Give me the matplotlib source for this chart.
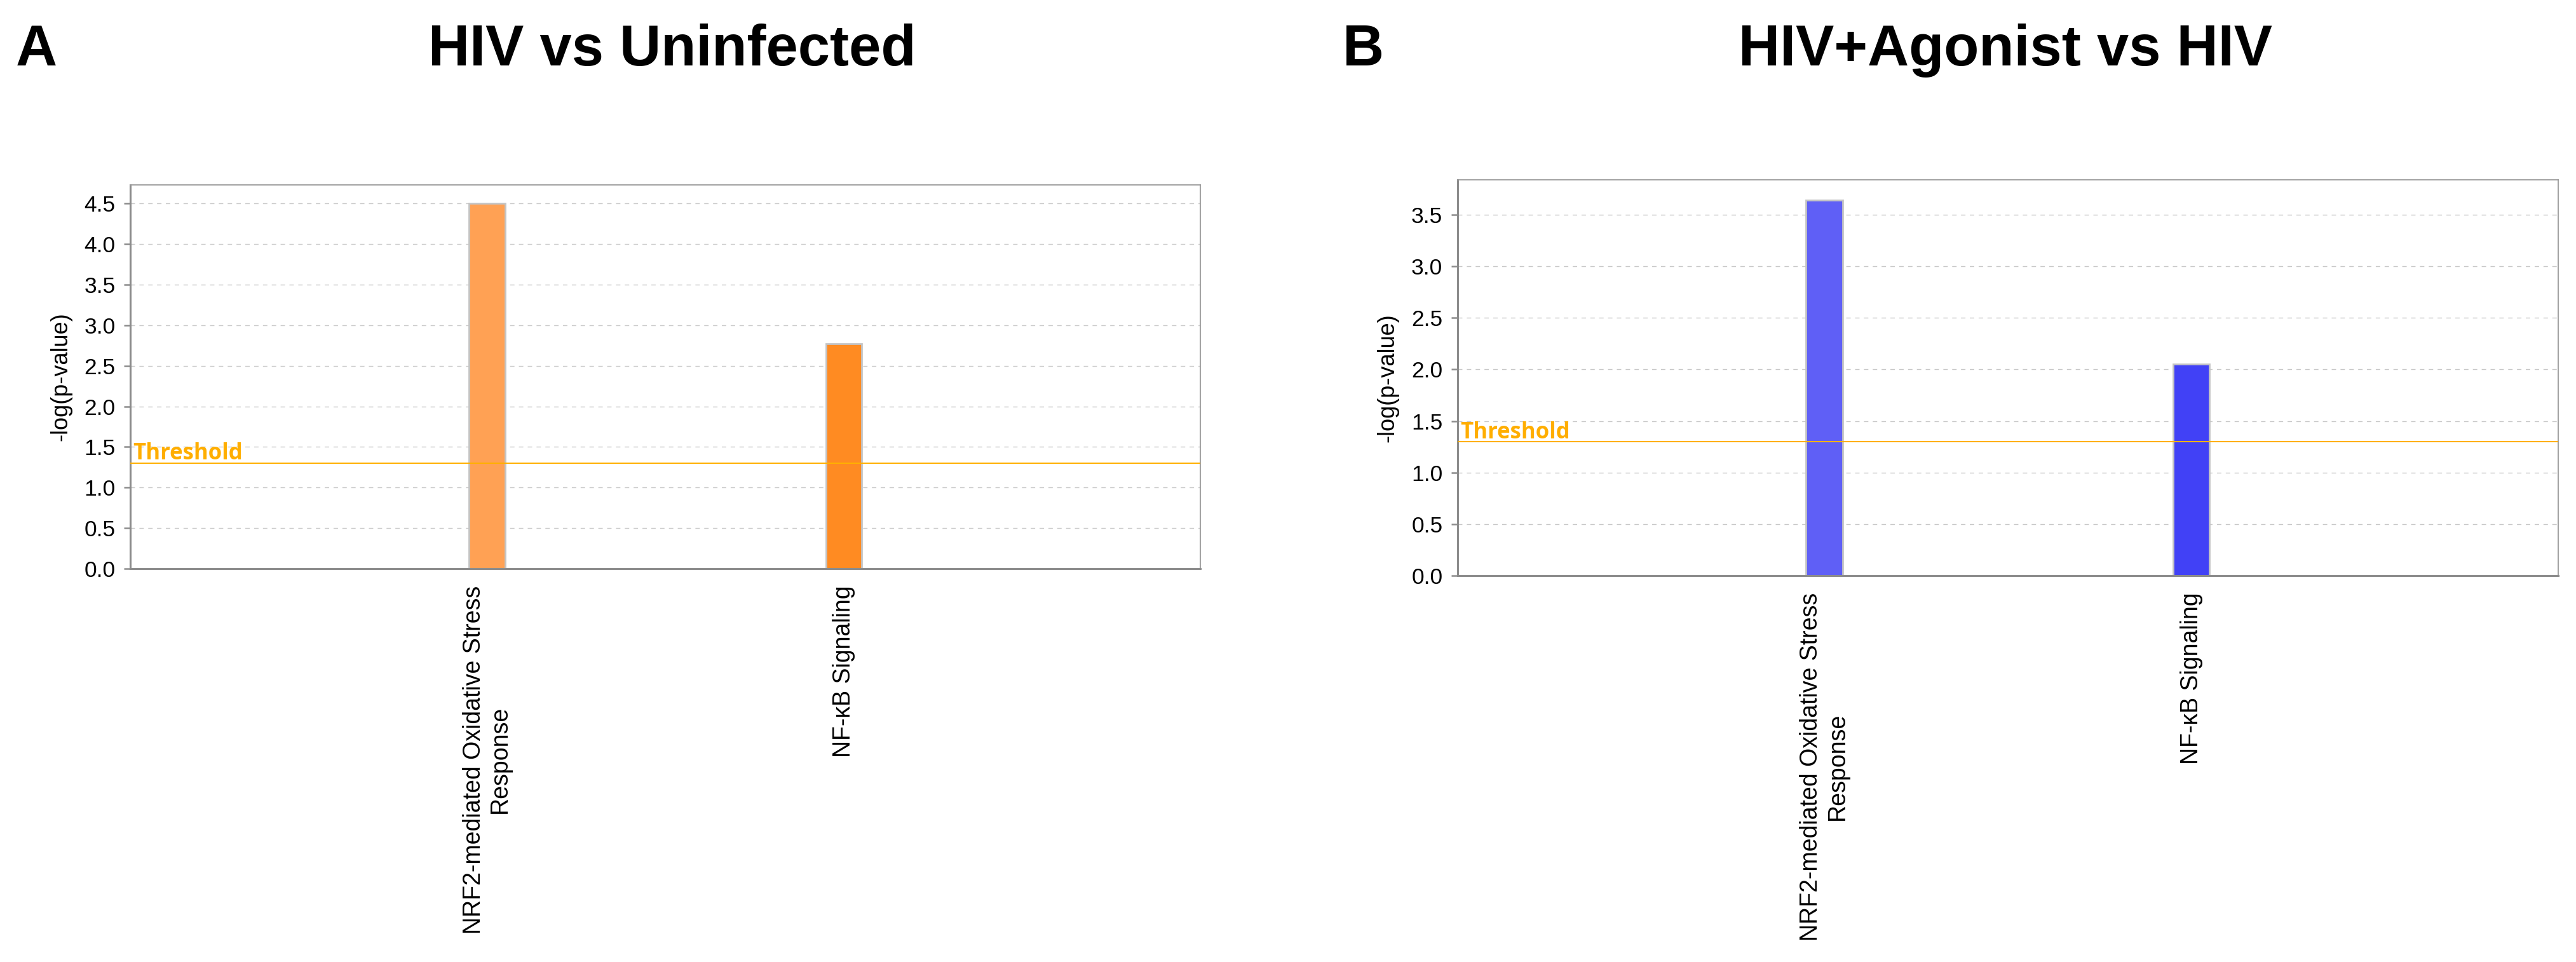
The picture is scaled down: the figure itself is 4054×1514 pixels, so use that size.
import numpy as np
import matplotlib.pyplot as plt

plt.rcParams['font.family'] = ['Liberation Sans', 'DejaVu Sans']

# pathways (x categories)
categories = ["NRF2-mediated Oxidative Stress\nResponse", "NF-\u03baB Signaling"]

# -log(p-value) per panel
hiv_vs_uninf = [4.50, 2.77]
agonist_vs_hiv = [3.64, 2.05]
threshold = 1.3

colors_a = ['#FFA154', '#FF8B22']
colors_b = ['#5F5FF6', '#4141F6']

titles = ["HIV vs Uninfected", "HIV+Agonist vs HIV"]
letters = ["A", "B"]


def draw_panel(ax, values, colors, ymax, ytop):
    x = np.arange(len(categories))
    ax.set_axisbelow(True)
    ax.yaxis.grid(True, color='#c8c8c8', linestyle=(0, (5, 5)), linewidth=1.0)
    ax.bar(x, values, width=0.1, color=colors, edgecolor='#c4c4c4', linewidth=2.0, zorder=2)
    ax.axhline(threshold, color='#FFB000', linewidth=1.5, zorder=3)
    ax.annotate('Threshold', xy=(0, threshold), xycoords=('axes fraction', 'data'),
                xytext=(3, 4), textcoords='offset points', ha='left', va='baseline',
                color='#FFAE00', fontsize=25, fontweight='bold',
                family=['Open Sans', 'DejaVu Sans'], zorder=4)
    ax.set_xlim(-1, 2)
    ax.set_ylim(0, ytop)
    ax.set_yticks(np.arange(0, ymax + 0.01, 0.5))
    ax.set_yticklabels([f"{v:.1f}" for v in np.arange(0, ymax + 0.01, 0.5)])
    ax.set_xticks(x)
    ax.set_xticklabels(categories, rotation=90, ha='center', va='top',
                       multialignment='center', fontsize=27)
    ax.tick_params(axis='x', length=0, pad=19)
    ax.tick_params(axis='y', length=7, width=1.8, color='#8c8c8c', pad=10, labelsize=25.5)
    ax.set_ylabel('-log(p-value)', fontsize=26, labelpad=14)
    for side in ['left', 'bottom']:
        ax.spines[side].set_color('#8c8c8c')
        ax.spines[side].set_linewidth(2.2)
    for side in ['top', 'right']:
        ax.spines[side].set_color('#9a9a9a')
        ax.spines[side].set_linewidth(1.3)


fig = plt.figure(figsize=(40.55, 15.14), dpi=100)

ax_a = fig.add_axes([0.0506, 0.4089, 0.4153, 0.3989])
draw_panel(ax_a, hiv_vs_uninf, colors_a, 4.5, 4.73)

ax_b = fig.add_axes([0.5657, 0.4016, 0.4271, 0.4115])
draw_panel(ax_b, agonist_vs_hiv, colors_b, 3.5, 3.84)

fig.text(0.2609, 0.932, titles[0], ha='center', va='baseline', fontsize=65, fontweight='bold')
fig.text(0.7783, 0.932, titles[1], ha='center', va='baseline', fontsize=65, fontweight='bold')
fig.text(0.0062, 0.932, letters[0], ha='left', va='baseline', fontsize=65, fontweight='bold')
fig.text(0.5211, 0.932, letters[1], ha='left', va='baseline', fontsize=65, fontweight='bold')

fig.savefig('out.png', dpi=100, facecolor='white')
